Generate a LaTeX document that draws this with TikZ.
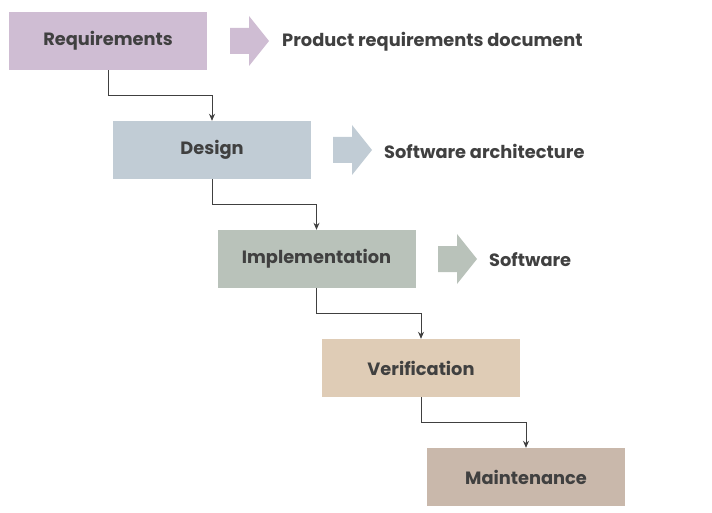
\documentclass[tikz,border=0pt]{standalone}
\usepackage{fontspec}
\setmainfont{Poppins}
\usetikzlibrary{arrows.meta}
\definecolor{c1}{HTML}{CFBDD3}
\definecolor{c2}{HTML}{C1CCD5}
\definecolor{c3}{HTML}{B9C2BA}
\definecolor{c4}{HTML}{DFCCB6}
\definecolor{c5}{HTML}{C9B8AB}
\definecolor{txt}{HTML}{404040}
\begin{document}
\begin{tikzpicture}[x=1pt,y=-1pt,
  phase/.style={minimum width=198pt,minimum height=58pt,inner sep=0pt,
    font=\fontsize{17.8}{20}\selectfont\bfseries,text=txt},
  outtext/.style={anchor=west,font=\fontsize{17.8}{20}\selectfont\bfseries,text=txt,inner sep=0pt,yshift=-1pt},
  flow/.style={draw=txt,line width=0.8pt,-{Stealth[length=7pt,width=6pt]}}]
\useasboundingbox (0,0) rectangle (712,513);
\newcommand\blockarr[3]{\fill[#3] (#1,#2-13) -- (#1+19,#2-13) -- (#1+19,#2-25) -- (#1+39,#2) -- (#1+19,#2+25) -- (#1+19,#2+13) -- (#1,#2+13) -- cycle;}
\node[phase,fill=c1] (req) at (108,41) {Requirements};
\node[phase,fill=c2] (des) at (212,150) {Design};
\node[phase,fill=c3] (imp) at (316.5,259) {Implementation};
\node[phase,fill=c4] (ver) at (421,368) {Verification};
\node[phase,fill=c5] (mai) at (526,477) {Maintenance};
\blockarr{230}{41}{c1}
\blockarr{333}{150}{c2}
\blockarr{438}{259}{c3}
\node[outtext] (o1) at (282,41) {Product requirements document};
\node[outtext] (o2) at (384,150) {Software architecture};
\node[outtext] (o3) at (489,259) {Software};
\draw[flow] (req.south) |- ++(0,25.5) -| (des.north);
\draw[flow] (des.south) |- ++(0,25.5) -| (imp.north);
\draw[flow] (imp.south) |- ++(0,25.5) -| (ver.north);
\draw[flow] (ver.south) |- ++(0,25.5) -| (mai.north);
\end{tikzpicture}
\end{document}
